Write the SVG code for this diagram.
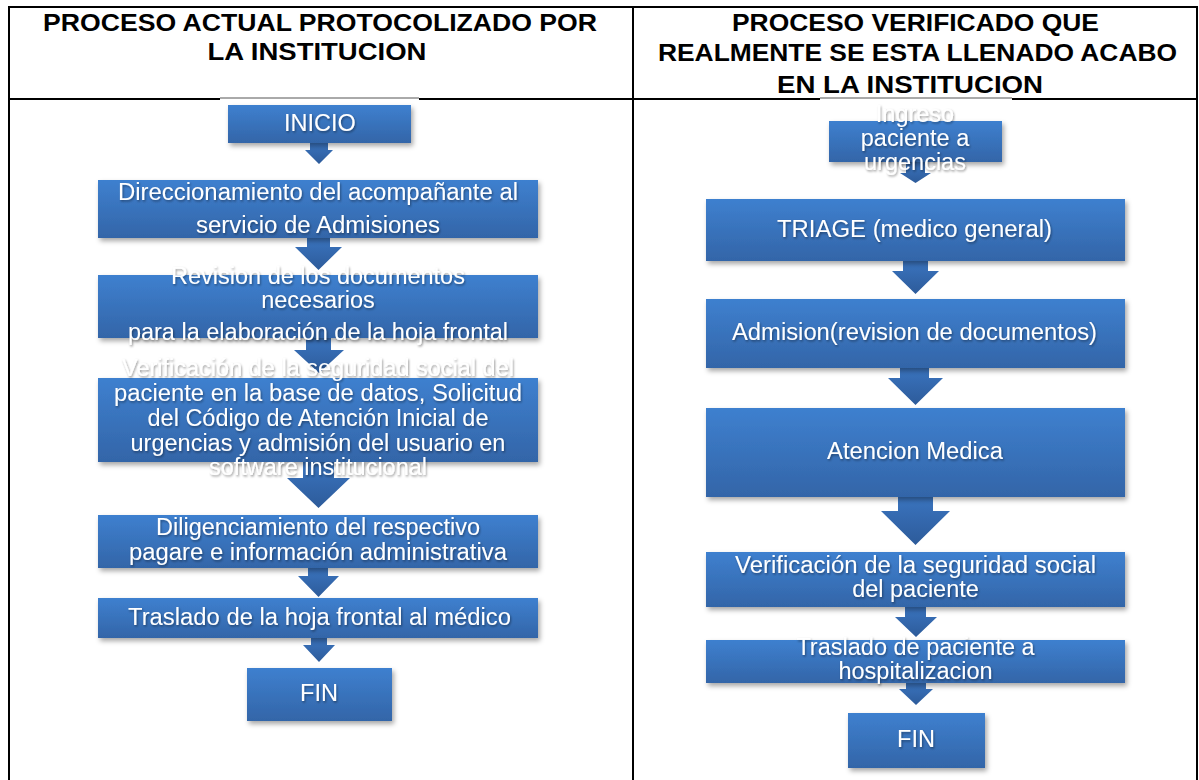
<svg xmlns="http://www.w3.org/2000/svg" width="1199" height="780" viewBox="0 0 1199 780">
<defs>
<linearGradient id="gBox" x1="0" y1="0" x2="0" y2="1">
<stop offset="0" stop-color="#3e80cf"/>
<stop offset="1" stop-color="#3365a8"/>
</linearGradient>
<linearGradient id="gArr" x1="0" y1="0" x2="0" y2="1">
<stop offset="0" stop-color="#3a74bf"/>
<stop offset="1" stop-color="#2d5b9a"/>
</linearGradient>
<filter id="bs" x="-5%" y="-10%" width="115%" height="150%">
<feDropShadow dx="2" dy="3" stdDeviation="2.5" flood-color="#000" flood-opacity="0.35"/>
</filter>
<filter id="ts" x="-10%" y="-40%" width="120%" height="180%">
<feDropShadow dx="1" dy="1.5" stdDeviation="1.3" flood-color="#000" flood-opacity="0.4"/>
</filter>
</defs>
<style>
.hdr{font-family:"Liberation Sans",Arial,sans-serif;font-weight:bold;font-size:24.5px;fill:#000;text-anchor:middle}
.box{fill:url(#gBox);filter:url(#bs)}
.arr{fill:url(#gArr)}
.t{font-family:"Liberation Sans",Arial,sans-serif;font-size:23.5px;fill:#fff;text-anchor:middle;filter:url(#ts)}
.ln{stroke:#000;stroke-width:2;fill:none}
</style>
<rect width="1199" height="780" fill="#fff"/>

<g id="table">
<line class="ln" x1="8" y1="7" x2="1198" y2="7"/>
<line class="ln" x1="9" y1="6" x2="9" y2="780"/>
<line class="ln" x1="633" y1="6" x2="633" y2="780"/>
<line class="ln" x1="1197" y1="6" x2="1197" y2="780"/>
<line class="ln" x1="8" y1="99" x2="1198" y2="99"/>
<rect x="220" y="97.5" width="199" height="4" fill="#fff"/>
<line x1="220" y1="98" x2="419" y2="98" stroke="#555" stroke-width="1"/>
<rect x="820" y="97.5" width="192" height="4" fill="#fff"/>
<line x1="820" y1="98" x2="1012" y2="98" stroke="#555" stroke-width="1"/>
</g>

<g id="headers">
<text class="hdr" x="320" y="31" textLength="554" lengthAdjust="spacingAndGlyphs">PROCESO ACTUAL PROTOCOLIZADO POR</text>
<text class="hdr" x="317" y="60" textLength="219" lengthAdjust="spacingAndGlyphs">LA INSTITUCION</text>
<text class="hdr" x="915.5" y="31" textLength="367" lengthAdjust="spacingAndGlyphs">PROCESO VERIFICADO QUE</text>
<text class="hdr" x="917.5" y="61" textLength="519" lengthAdjust="spacingAndGlyphs">REALMENTE SE ESTA LLENADO ACABO</text>
<text class="hdr" x="910" y="93" textLength="266" lengthAdjust="spacingAndGlyphs">EN LA INSTITUCION</text>
</g>

<g id="connectors">
<polygon class="arr" points="310,143 328,143 328,150 333,150 319,164 305,150 310,150"/>
<polygon class="arr" points="307,238 330,238 330,247 342,247 318.5,270 295,247 307,247"/>
<polygon class="arr" points="306,338 331,338 331,350 344,350 319,373 294,350 306,350"/>
<polygon class="arr" points="303,462 334,462 334,478 350,478 318.5,508 287,478 303,478"/>
<polygon class="arr" points="308,568 328,568 328,576 339,576 318.5,597 298,576 308,576"/>
<polygon class="arr" points="311,638 327,638 327,645 335,645 319,662 303,645 311,645"/>
<polygon class="arr" points="906,162 925,162 925,173 931,173 915.5,183 900,173 906,173"/>
<polygon class="arr" points="903,261 928,261 928,271 939,271 915.5,294 892,271 903,271"/>
<polygon class="arr" points="900,368 929,368 929,378 943,378 915.5,405 888,378 900,378"/>
<polygon class="arr" points="898,497 933,497 933,511 950,511 915.5,545 881,511 898,511"/>
<polygon class="arr" points="905,607 926,607 926,617 937,617 916,637 895,617 905,617"/>
<polygon class="arr" points="906,683 926,683 926,689 933,689 916,705 899,689 906,689"/>
</g>

<g id="l-inicio">
<rect class="box" x="228" y="105" width="183" height="38"/>
<text class="t" x="320" y="131">INICIO</text>
</g>
<g id="l-direccionamiento">
<rect class="box" x="98" y="180" width="440" height="58"/>
<text class="t" x="318" y="200" textLength="400" lengthAdjust="spacingAndGlyphs">Direccionamiento del acompañante al</text>
<text class="t" x="318" y="233" textLength="244" lengthAdjust="spacingAndGlyphs">servicio de Admisiones</text>
</g>
<g id="l-revision">
<rect class="box" x="98" y="275" width="440" height="63"/>
<text class="t" x="318" y="284">Revision de los documentos</text>
<text class="t" x="318" y="308">necesarios</text>
<text class="t" x="318" y="340">para la elaboración de la hoja frontal</text>
</g>
<g id="l-verificacion">
<rect class="box" x="98" y="378" width="440" height="84"/>
<text class="t" x="318" y="376">Verificación de la seguridad social del</text>
<text class="t" x="318" y="401" textLength="408" lengthAdjust="spacingAndGlyphs">paciente en la base de datos, Solicitud</text>
<text class="t" x="318" y="426">del Código de Atención Inicial de</text>
<text class="t" x="318" y="451">urgencias y admisión del usuario en</text>
<text class="t" x="318" y="475">software institucional</text>
</g>
<g id="l-diligenciamiento">
<rect class="box" x="98" y="515" width="440" height="53"/>
<text class="t" x="318" y="535">Diligenciamiento del respectivo</text>
<text class="t" x="318" y="560" textLength="378" lengthAdjust="spacingAndGlyphs">pagare e información administrativa</text>
</g>
<g id="l-traslado">
<rect class="box" x="98" y="598" width="440" height="40"/>
<text class="t" x="319.5" y="625" textLength="383" lengthAdjust="spacingAndGlyphs">Traslado de la hoja frontal al médico</text>
</g>
<g id="l-fin">
<rect class="box" x="247" y="668" width="145" height="53"/>
<text class="t" x="319" y="701">FIN</text>
</g>

<g id="r-ingreso">
<rect class="box" x="829" y="121" width="173" height="41"/>
<text class="t" x="915" y="122">Ingreso</text>
<text class="t" x="915" y="146">paciente a</text>
<text class="t" x="915" y="170">urgencias</text>
</g>
<g id="r-triage">
<rect class="box" x="706" y="199" width="419" height="62"/>
<text class="t" x="914.5" y="237" textLength="275" lengthAdjust="spacingAndGlyphs">TRIAGE (medico general)</text>
</g>
<g id="r-admision">
<rect class="box" x="706" y="299" width="419" height="69"/>
<text class="t" x="914.5" y="340" textLength="365" lengthAdjust="spacingAndGlyphs">Admision(revision de documentos)</text>
</g>
<g id="r-atencion">
<rect class="box" x="706" y="408" width="419" height="89"/>
<text class="t" x="915" y="459" textLength="176" lengthAdjust="spacingAndGlyphs">Atencion Medica</text>
</g>
<g id="r-verificacion">
<rect class="box" x="706" y="552" width="419" height="55"/>
<text class="t" x="915.5" y="573" textLength="361" lengthAdjust="spacingAndGlyphs">Verificación de la seguridad social</text>
<text class="t" x="915.5" y="597">del paciente</text>
</g>
<g id="r-traslado">
<rect class="box" x="706" y="640" width="419" height="43"/>
<text class="t" x="915.5" y="655">Traslado de paciente a</text>
<text class="t" x="915.5" y="679">hospitalizacion</text>
</g>
<g id="r-fin">
<rect class="box" x="848" y="713" width="137" height="55"/>
<text class="t" x="916" y="747">FIN</text>
</g>
</svg>
